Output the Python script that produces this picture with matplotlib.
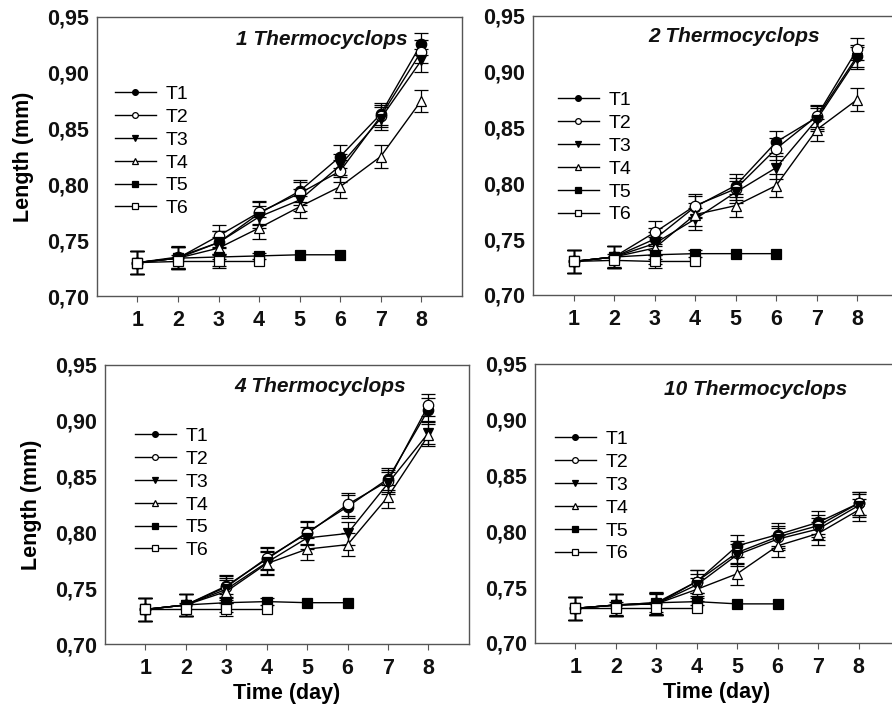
import numpy as np
import matplotlib
matplotlib.use('Agg')
import matplotlib.pyplot as plt

plt.rcParams['font.family'] = ['Liberation Sans', 'DejaVu Sans']

days = [1, 2, 3, 4, 5, 6, 7, 8]
labels = ['T1', 'T2', 'T3', 'T4', 'T5', 'T6']
titles = ['1 Thermocyclops', '2 Thermocyclops', '4 Thermocyclops', '10 Thermocyclops']

# mean length (mm) per day, one list per treatment; T5 runs to day 6, T6 to day 4
p1 = [
    [0.730, 0.735, 0.748, 0.774, 0.794, 0.825, 0.863, 0.926],
    [0.730, 0.734, 0.754, 0.775, 0.792, 0.812, 0.861, 0.919],
    [0.730, 0.734, 0.748, 0.771, 0.786, 0.817, 0.859, 0.911],
    [0.730, 0.734, 0.743, 0.761, 0.780, 0.798, 0.825, 0.875],
    [0.730, 0.734, 0.735, 0.736, 0.737, 0.737],
    [0.730, 0.731, 0.731, 0.731],
]
p2 = [
    [0.730, 0.734, 0.750, 0.779, 0.798, 0.837, 0.859, 0.914],
    [0.730, 0.734, 0.756, 0.780, 0.795, 0.831, 0.860, 0.920],
    [0.730, 0.734, 0.746, 0.768, 0.792, 0.814, 0.857, 0.912],
    [0.730, 0.734, 0.742, 0.772, 0.780, 0.798, 0.848, 0.875],
    [0.730, 0.734, 0.736, 0.737, 0.737, 0.737],
    [0.730, 0.731, 0.730, 0.730],
]
p3 = [
    [0.731, 0.735, 0.752, 0.776, 0.800, 0.823, 0.848, 0.910],
    [0.731, 0.735, 0.751, 0.777, 0.799, 0.825, 0.846, 0.914],
    [0.731, 0.735, 0.749, 0.773, 0.795, 0.799, 0.844, 0.889],
    [0.731, 0.735, 0.747, 0.772, 0.785, 0.789, 0.832, 0.887],
    [0.731, 0.735, 0.737, 0.738, 0.737, 0.737],
    [0.731, 0.731, 0.731, 0.731],
]
p4 = [
    [0.731, 0.734, 0.736, 0.755, 0.787, 0.797, 0.808, 0.825],
    [0.731, 0.734, 0.735, 0.755, 0.781, 0.795, 0.805, 0.825],
    [0.731, 0.734, 0.735, 0.752, 0.779, 0.793, 0.802, 0.823],
    [0.731, 0.734, 0.735, 0.748, 0.762, 0.787, 0.798, 0.819],
    [0.731, 0.734, 0.736, 0.737, 0.735, 0.735],
    [0.731, 0.731, 0.731, 0.731],
]
panels = [p1, p2, p3, p4]

# standard errors: growing groups ~0.01, the control groups much smaller
err_grow = [0.010] * 8
err_t5 = [0.010, 0.010, 0.008, 0.003, np.nan, np.nan]
err_t6 = [0.010, 0.006, 0.006, np.nan]
errs = [err_grow, err_grow, err_grow, err_grow, err_t5, err_t6]

markers = ['o', 'o', 'v', '^', 's', 's']
faces = ['black', 'white', 'black', 'white', 'black', 'white']
sizes = [7.5, 7.5, 7.5, 7.5, 6.8, 6.8]

# axes boxes in figure fraction (the right-hand ones run off the edge like the scan)
boxes = [
    [0.1087, 0.580, 0.409, 0.396],
    [0.5975, 0.5816, 0.409, 0.396],
    [0.1177, 0.0865, 0.408, 0.396],
    [0.5998, 0.088, 0.408, 0.396],
]
title_pos = [(0.852, 0.918, 'right'), (0.551, 0.925, 'center'),
             (0.59, 0.921, 'center'), (0.607, 0.907, 'center')]
leg_pos = [(0.049, 0.755), (0.068, 0.729), (0.082, 0.776), (0.055, 0.761)]

fig = plt.figure(figsize=(8.92, 7.05), dpi=100)

for i in range(4):
    ax = fig.add_axes(boxes[i])
    data = panels[i]
    for k in range(6):
        y = data[k]
        x = days[:len(y)]
        ax.errorbar(x, y, yerr=errs[k][:len(y)], color='black', lw=1,
                    marker=markers[k], mfc=faces[k], mec='black', ms=sizes[k],
                    mew=0.9, capsize=5, elinewidth=0.9, capthick=1.2,
                    label=labels[k])
    ax.set_xlim(0, 9)
    ax.set_ylim(0.70, 0.95)
    ax.set_xticks(days)
    ax.set_yticks([0.70, 0.75, 0.80, 0.85, 0.90, 0.95])
    ax.set_yticklabels(['0,70', '0,75', '0,80', '0,85', '0,90', '0,95'])
    ax.tick_params(axis='x', direction='out', length=4, width=0.8, color='#555555',
                   labelsize=15.5, pad=6)
    ax.tick_params(axis='y', length=0, labelsize=15.5, pad=6)
    for lab in ax.get_xticklabels() + ax.get_yticklabels():
        lab.set_fontweight('bold')
        lab.set_color('#111111')
    for s in ax.spines.values():
        s.set_color('#555555')
        s.set_linewidth(1.0)
    tx, ty, ha = title_pos[i]
    ax.text(tx, ty, titles[i], transform=ax.transAxes, ha=ha, va='center',
            fontsize=15, fontweight='bold', fontstyle='italic', color='#111111')
    h, l = ax.get_legend_handles_labels()
    h = [hh[0] for hh in h]
    ax.legend(h, l, loc='upper left', bbox_to_anchor=leg_pos[i], frameon=False,
              fontsize=14, markerscale=0.55, handlelength=2.1, handletextpad=0.5,
              labelspacing=0.27, borderpad=0, borderaxespad=0)
    if i in (0, 2):
        ax.set_ylabel('Length (mm)', fontsize=15.5, fontweight='bold', labelpad=9)
    if i in (2, 3):
        ax.set_xlabel('Time (day)', fontsize=15.5, fontweight='bold', labelpad=3)

fig.savefig('out.png', dpi=100)
